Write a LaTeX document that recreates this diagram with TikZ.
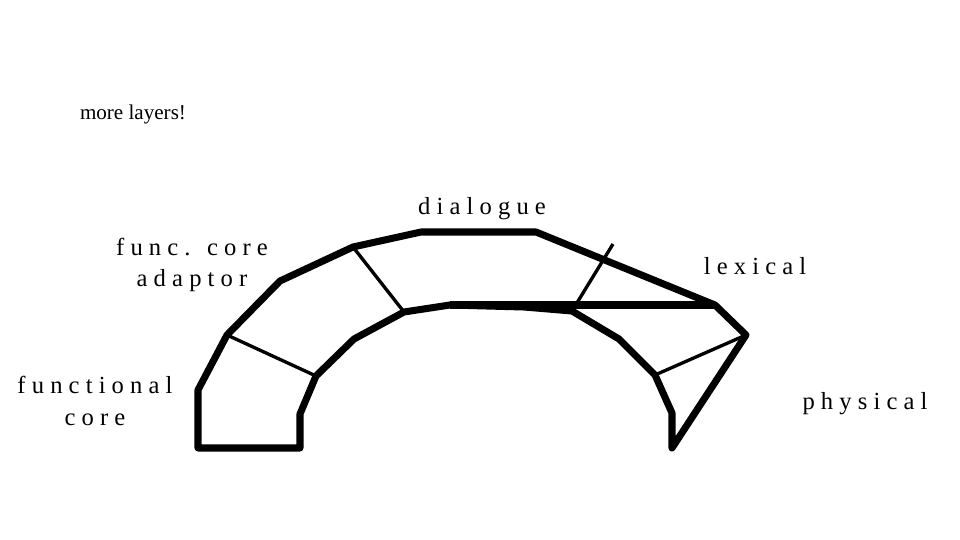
\documentclass[tikz,border=0pt]{standalone}
\usepackage{fontspec}
\setmainfont{Liberation Serif}
\newfontfamily\spaced[LetterSpace=25]{Liberation Serif}
\usetikzlibrary{positioning}

\tikzset{
  layer/.style={font=\spaced\fontsize{14}{18}\selectfont, align=center, inner sep=0pt},
  note/.style={font=\fontsize{12}{14}\selectfont, inner sep=0pt},
  wall/.style={line width=4pt, line join=round},
  divide/.style={line width=1.9pt}
}

\begin{document}
\begin{tikzpicture}
        [x=0.02cm,y=-0.02cm]
        \useasboundingbox (0,0) rectangle (960,540);

        % outline of the arch
        \coordinate (fcbl) at (198,448);
        \coordinate (fcl) at (198,390);
        \coordinate (fal) at (227,335);
        \coordinate (fat) at (280,281);
        \coordinate (dl) at (353,247);
        \coordinate (dtl) at (421,232);
        \coordinate (dtr) at (536,232);
        \coordinate (lx) at (715,305);
        \coordinate (pr) at (746,335);
        \coordinate (pb) at (672,448);
        \coordinate (pt) at (672,413);
        \coordinate (pin) at (655,375);
        \coordinate (lin1) at (619,339);
        \coordinate (lin2) at (572,311);
        \coordinate (din1) at (524,307);
        \coordinate (din2) at (450,305);
        \coordinate (din3) at (404,312);
        \coordinate (ain1) at (354,339);
        \coordinate (ain2) at (316,376);
        \coordinate (fin1) at (300,414);
        \coordinate (fcbr) at (300,448);
        \coordinate (lxtop) at (613,244);

        \draw[wall] (fcbl) -- (fcl) -- (fal) -- (fat) -- (dl) -- (dtl) -- (dtr)
            -- (lx) -- (pr) -- (pb) -- (pt) -- (pin) -- (lin1) -- (lin2)
            -- (din1) -- (din2) -- (din3) -- (ain1) -- (ain2) -- (fin1)
            -- (fcbr) -- cycle;
        \draw[wall] (din2) -- (lx);

        \foreach \from/\to in {fal/ain2, dl/din3, lxtop/lin2, pr/pin}
            \draw[divide] (\from) -- (\to);

        \node[note] (more) at (133,114) {more layers!};
        \node[layer] (dialogue) at (482,209) {dialogue};
        \node[layer] (adaptor) at (192,265) {func. core\\adaptor};
        \node[layer] (lexical) at (755,266) {lexical};
        \node[layer] (core) at (95,401) {functional\\core};
        \node[layer] (physical) at (865,404) {physical};

      \end{tikzpicture}
\end{document}
